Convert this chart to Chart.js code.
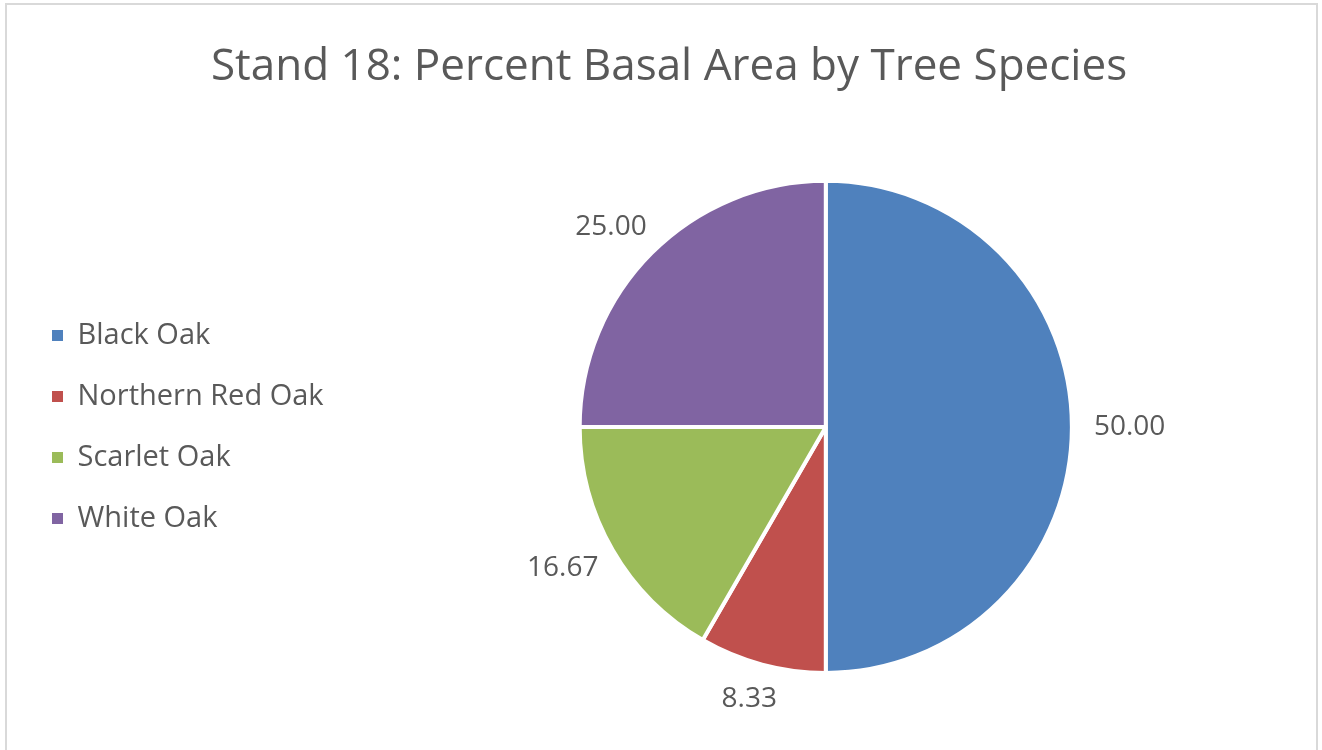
<!DOCTYPE html>
<html>
<head>
<meta charset="utf-8">
<script src="https://cdn.jsdelivr.net/npm/chart.js@4/dist/chart.umd.min.js"></script>
<style>
    html, body { margin: 0; padding: 0; background: #fff; }
    #wrap { position: relative; width: 1322px; height: 750px; }
    #frame { position: absolute; left: 5px; top: 3px; width: 1313px; height: 760px; border: 2px solid #d9d9d9; box-sizing: border-box; pointer-events: none; }
</style>
</head>
<body>
<div id="wrap">
    <canvas id="basal-area" width="1322" height="750"></canvas>
    <div id="frame"></div>
</div>
<script>
const species = ["Black Oak", "Northern Red Oak", "Scarlet Oak", "White Oak"];
const percentBasalArea = [50.00, 8.33, 16.67, 25.00];
const sliceColors = ["#4F81BD", "#C0504D", "#9BBB59", "#8064A2"];

const textColor = '#595959';
const fontFamily = "'Open Sans', sans-serif";
const labelSize = 28;

// draws the value labels just outside each slice
const outsideLabels = {
    id: 'outsideLabels',
    afterDatasetsDraw(chart) {
        const ctx = chart.ctx;
        const meta = chart.getDatasetMeta(0);
        const values = chart.data.datasets[0].data;
        ctx.save();
        ctx.font = `${labelSize}px ${fontFamily}`;
        ctx.fillStyle = textColor;
        ctx.textAlign = 'center';
        ctx.textBaseline = 'middle';
        meta.data.forEach((arc, i) => {
            const mid = (arc.startAngle + arc.endAngle) / 2;
            const dx = Math.cos(mid);
            const dy = Math.sin(mid);
            const text = values[i].toFixed(2);
            const w = ctx.measureText(text).width;
            const h = labelSize;
            const dist = arc.outerRadius + 22;
            const x = arc.x + dx * dist + dx * w / 2;
            const y = arc.y + dy * dist + dy * h / 2;
            ctx.fillText(text, x, y);
        });
        ctx.restore();
    }
};

const createBasalChart = () => {
    const ctx = document.getElementById('basal-area').getContext('2d');

    new Chart(ctx, {
        type: 'pie',
        data: {
            labels: species,
            datasets: [
                {
                    data: percentBasalArea,
                    backgroundColor: sliceColors,
                    borderColor: '#ffffff',
                    borderWidth: 4
                }
            ]
        },
        options: {
            responsive: false,
            animation: false,
            layout: {
                padding: { left: 20, right: 4, top: 0, bottom: 75 }
            },
            plugins: {
                tooltip: { enabled: false },
                title: {
                    display: true,
                    text: 'Stand 18: Percent Basal Area by Tree Species',
                    color: textColor,
                    font: { family: fontFamily, size: 44, weight: 'normal' },
                    padding: { top: 41, bottom: 85 }
                },
                legend: {
                    display: true,
                    position: 'left',
                    title: {
                        display: true,
                        text: '',
                        font: { size: 1, lineHeight: 1 },
                        padding: { top: 178, bottom: 0 }
                    },
                    labels: {
                        boxWidth: 11,
                        boxHeight: 11,
                        padding: 32,
                        color: textColor,
                        font: { family: fontFamily, size: 29 },
                        generateLabels: (chart) => {
                            const items = Chart.controllers.pie.overrides.plugins.legend.labels.generateLabels(chart);
                            return items.map(item => ({ ...item, lineWidth: 0 }));
                        }
                    }
                }
            }
        },
        plugins: [outsideLabels]
    });
};

document.addEventListener('DOMContentLoaded', function () {
    createBasalChart();
});
</script>
</body>
</html>
